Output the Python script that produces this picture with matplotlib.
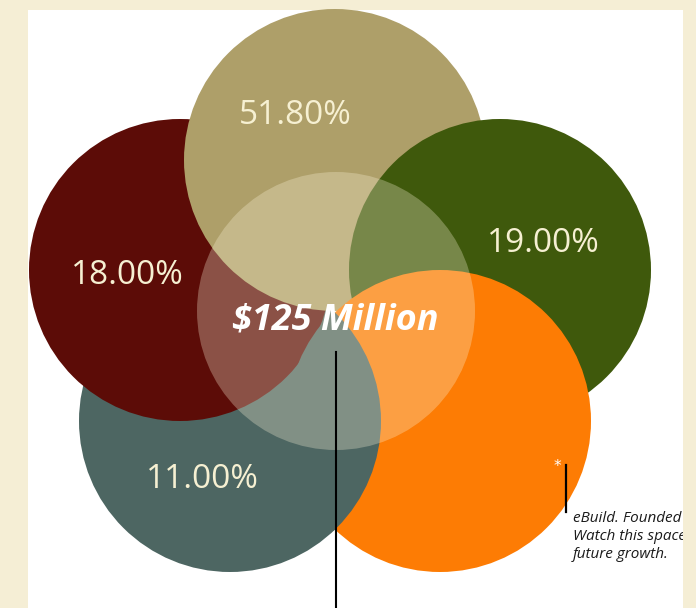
import matplotlib.pyplot as plt
from matplotlib.patches import Circle, Rectangle

# segment shares and the total
labels = ["51.80%", "18.00%", "19.00%", "11.00%", ""]
shares = [51.8, 18.0, 19.0, 11.0, 0.2]
total_label = "$125 Million"
note_lines = ["eBuild. Founded 2007.", "Watch this space for", "future growth."]

colors = ["#ae9f69", "#5c0c07", "#3f590c", "#4d6662", "#fd7c04"]

# layout (pixel units, y grows downward)
centers = [(335, 160), (180, 270), (500, 270), (230, 421), (440, 421)]
radius = 151
label_pos = [(295, 116), (127, 275), (543, 243), (202, 479), None]

bg = "#f5eed5"
text_col = "#f6f0d2"

fig = plt.figure(figsize=(6.96, 6.08), dpi=100, facecolor=bg)
ax = fig.add_axes([0, 0, 1, 1])
ax.set_xlim(0, 696)
ax.set_ylim(608, 0)
ax.set_aspect("equal")
ax.axis("off")

ax.add_patch(Rectangle((28, 10), 655, 620, facecolor="white", edgecolor="none", zorder=0))

# circles overlap in a ring: red, tan, green, orange, then slate on top of orange
order = [3, 1, 0, 2, 4]
for z, i in enumerate(order):
    ax.add_patch(Circle(centers[i], radius, facecolor=colors[i], edgecolor="none", zorder=1 + z))

slate_top = Circle(centers[3], radius, facecolor=colors[3], edgecolor="none", zorder=7)
ax.add_patch(slate_top)
slate_top.set_clip_path(Circle(centers[4], radius + 2, transform=ax.transData))

# lighter core
ax.add_patch(Circle((336, 311), 139, facecolor="#fbf3d8", alpha=0.3, edgecolor="none", zorder=8))

for lab, pos in zip(labels, label_pos):
    if pos is None:
        continue
    ax.text(pos[0], pos[1], lab, color=text_col, fontsize=24, family="Open Sans",
            ha="center", va="center", zorder=10)

ax.text(335, 321, total_label, color="white", fontsize=26, family="Open Sans",
        fontweight="bold", style="italic", ha="center", va="center", zorder=10)

ax.plot([336, 336], [352, 608], color="black", lw=1.5, zorder=11)

# note for the newest unit
ax.text(557, 467, "*", color="white", fontsize=11, ha="center", va="center", zorder=10)
ax.plot([566, 566], [465, 512], color="black", lw=1.6, zorder=11)
for k, line in enumerate(note_lines):
    ax.text(573, 518 + k * 18.5, line, color="#1a1a1a", fontsize=11, family="Open Sans",
            style="italic", ha="left", va="center", zorder=11)

ax.add_patch(Rectangle((683, 0), 20, 620, facecolor=bg, edgecolor="none", zorder=20))

fig.savefig("out.png", dpi=100, facecolor=bg)
